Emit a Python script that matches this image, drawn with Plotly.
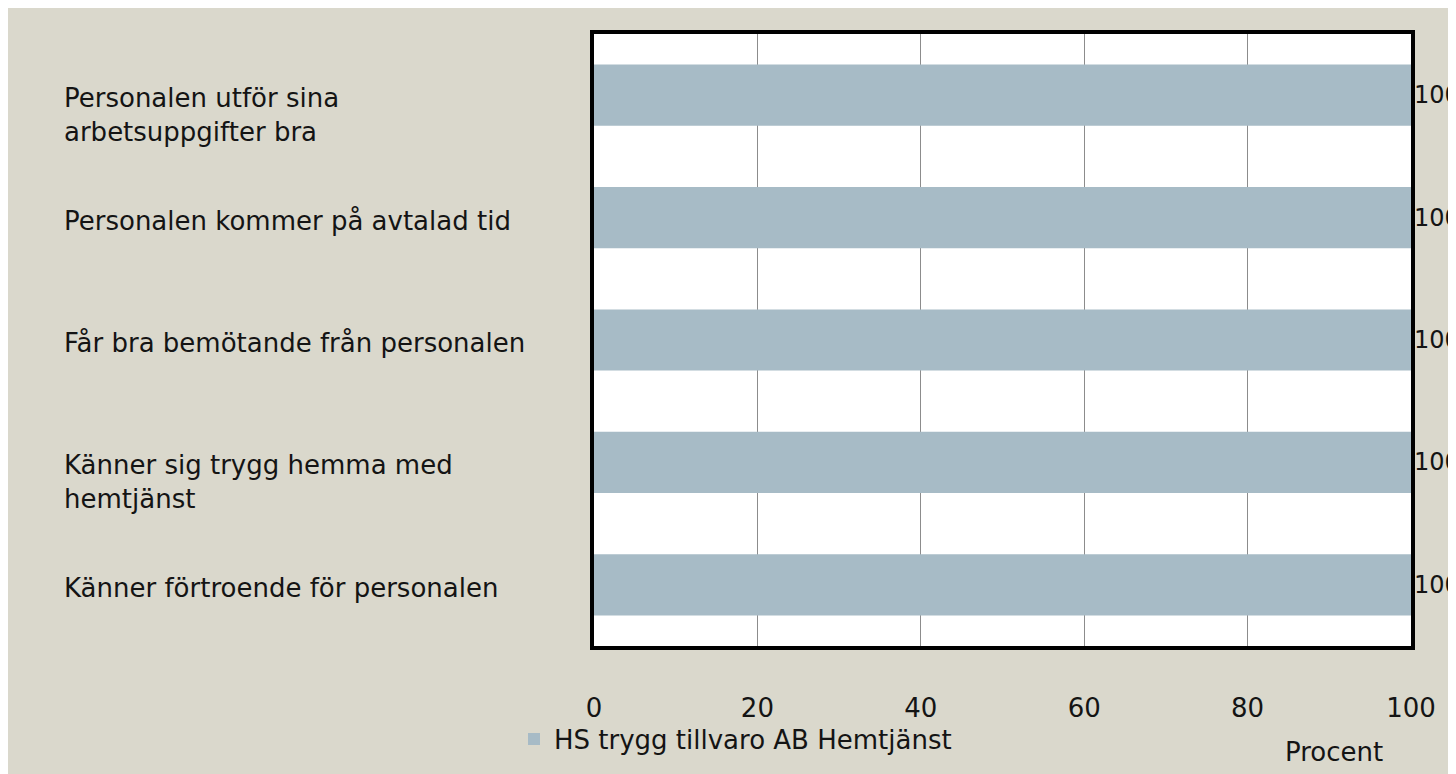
import plotly.graph_objects as go

categories = [
    "Personalen utför sina<br>arbetsuppgifter bra",
    "Personalen kommer på avtalad tid",
    "Får bra bemötande från personalen",
    "Känner sig trygg hemma med<br>hemtjänst",
    "Känner förtroende för personalen",
]
values = [100, 100, 100, 100, 100]
series_name = "HS trygg tillvaro AB Hemtjänst"
x_ticks = [0, 20, 40, 60, 80, 100]
x_title = "Procent"

OFF = 8  # page body margin
W, H = 1456 - OFF, 774 - OFF
L, R, T, B = 594 - OFF, 1411 - OFF, 34 - OFF, 646 - OFF
pw, ph = R - L, B - T

def px_x(p):
    return (p - OFF - L) / pw

def px_y(p):
    return (B - (p - OFF)) / ph

FONT = "DejaVu Sans"
FS = 26
TXT = "#141414"
BG = "#DAD8CC"
BAR = "#A7BBC6"

fig = go.Figure()
fig.add_trace(go.Bar(
    y=categories, x=values, orientation="h", name=series_name,
    marker=dict(color=BAR, line=dict(width=0)),
    text=[str(v) for v in values], textposition="outside",
    textfont=dict(family=FONT, size=24, color=TXT),
    cliponaxis=False, showlegend=True,
))

annotations = []
for c in categories:
    annotations.append(dict(
        x=px_x(62), y=c, xref="paper", yref="y", text=c, showarrow=False,
        xanchor="left", yanchor="top", align="left", yshift=14,
        font=dict(family=FONT, size=FS, color=TXT),
    ))
annotations.append(dict(
    x=px_x(1334), y=px_y(752), xref="paper", yref="paper", text=x_title, showarrow=False,
    xanchor="center", yanchor="middle", font=dict(family=FONT, size=FS, color=TXT),
))

fig.update_layout(
    width=W, height=H,
    margin=dict(l=L, r=W - R, t=T, b=H - B),
    paper_bgcolor=BG, plot_bgcolor="white",
    bargap=0.5,
    annotations=annotations,
    font=dict(family=FONT, size=FS, color=TXT),
    legend=dict(orientation="h", x=px_x(514), y=px_y(739), xanchor="left", yanchor="middle",
                bgcolor="rgba(0,0,0,0)", font=dict(family=FONT, size=FS, color=TXT),
                itemwidth=30),
    xaxis=dict(range=[0, 100], tickvals=x_ticks, showgrid=True, gridcolor="#8C8C8C", gridwidth=1,
               zeroline=False, showline=True, linecolor="black", linewidth=4, mirror=True,
               ticks="", ticklabelstandoff=36, tickfont=dict(family=FONT, size=FS, color=TXT)),
    yaxis=dict(autorange="reversed", showticklabels=False, showgrid=False, zeroline=False,
               showline=True, linecolor="black", linewidth=4, mirror=True, ticks=""),
)

fig.write_html("out.html")
